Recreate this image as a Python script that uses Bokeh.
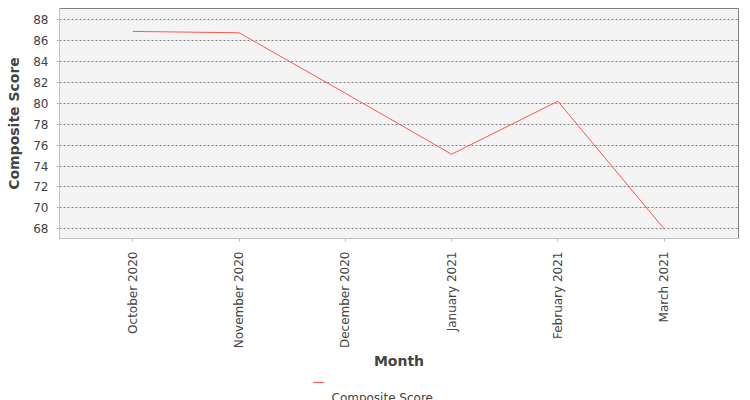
import math
from bokeh.plotting import figure
from bokeh.models import Range1d, FixedTicker, Title
from bokeh.embed import file_html
from bokeh.resources import INLINE

# data
months = ["October 2020", "November 2020", "December 2020",
          "January 2021", "February 2021", "March 2021"]
scores = [86.86, 86.73, 80.96, 75.13, 80.19, 68.0]
y_ticks = [68, 70, 72, 74, 76, 78, 80, 82, 84, 86, 88]
series_name = "Composite Score"
line_color = "#ff5555"

xs = list(range(len(months)))

p = figure(frame_width=679, frame_height=230, output_backend="svg", toolbar_location=None,
           x_range=Range1d(-0.69, len(months) - 1 + 0.70),
           y_range=Range1d(67.08, 89.05),
           min_border_left=59, min_border_right=12,
           min_border_top=8, min_border_bottom=162)

p.background_fill_color = "#f4f4f4"
p.border_fill_color = "white"
p.outline_line_color = "#808080"
p.outline_line_width = 1

p.line(xs, scores, line_color=line_color, line_width=1)

# grid
p.xgrid.visible = False
p.ygrid.ticker = FixedTicker(ticks=y_ticks)
p.ygrid.grid_line_color = "#808080"
p.ygrid.grid_line_dash = "2 2"
p.ygrid.grid_line_width = 1

# x axis
p.xaxis.ticker = FixedTicker(ticks=xs)
p.xaxis.major_label_overrides = {i: m for i, m in enumerate(months)}
p.xaxis.major_label_orientation = math.pi / 2
p.xaxis.axis_label = "Month"

# y axis
p.yaxis.ticker = FixedTicker(ticks=y_ticks)
p.yaxis.axis_label = series_name

for ax in (p.xaxis[0], p.yaxis[0]):
    ax.axis_line_color = "#c0c0c0"
    ax.major_tick_line_color = "#c0c0c0"
    ax.major_tick_in = 0
    ax.major_tick_out = 3
    ax.minor_tick_line_color = None
    ax.major_label_text_font = "DejaVu Sans"
    ax.major_label_text_font_size = "12px"
    ax.major_label_text_color = "#444444"
    ax.axis_label_text_font = "DejaVu Sans"
    ax.axis_label_text_font_size = "14px"
    ax.axis_label_text_font_style = "bold"
    ax.axis_label_text_color = "#444444"

p.xaxis.major_label_standoff = 10
p.xaxis.axis_label_standoff = 2
p.yaxis.major_label_standoff = 8
p.yaxis.axis_label_standoff = 8

# legend under the axis title: red key dash, then the series name
key = Title(text="\u2014", align="left", offset=253, standoff=0,
            text_font="DejaVu Sans", text_font_size="12px",
            text_font_style="normal", text_color=line_color)
name = Title(text=series_name, align="left", offset=272, standoff=0,
             text_font="DejaVu Sans", text_font_size="12px",
             text_font_style="normal", text_color="#444444")
p.add_layout(key, "below")
p.add_layout(name, "below")

open("out.html", "w").write(file_html(p, INLINE))
